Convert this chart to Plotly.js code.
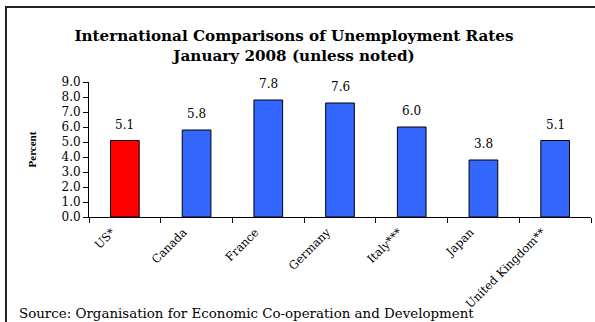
<!DOCTYPE html>
<html>
<head>
<meta charset="utf-8">
<script src="https://cdn.plot.ly/plotly-3.0.1.min.js"></script>
<style>
html,body{margin:0;padding:0;background:#fff;}
#chart{width:595px;height:322px;}
</style>
</head>
<body>
<div id="chart"></div>
<script>
const countries = ["US*", "Canada", "France", "Germany", "Italy***", "Japan", "United Kingdom**"];
const rates = [5.1, 5.8, 7.8, 7.6, 6.0, 3.8, 5.1];
const barColors = ["#FF0000", "#3366FF", "#3366FF", "#3366FF", "#3366FF", "#3366FF", "#3366FF"];
const yTicks = [0, 1, 2, 3, 4, 5, 6, 7, 8, 9];

const serif = "DejaVu Serif, serif";
const tserif = "Liberation Serif, serif";

const W = 595, H = 322;
const L = 89, R = 4, T = 82, B = 105;
const pw = W - L - R, ph = H - T - B;
const px = x => (x - L) / pw;
const py = y => (H - B - y) / ph;

const trace = {
  type: "bar",
  x: countries,
  y: rates,
  marker: {color: barColors, line: {color: "#000", width: 1}},
  cliponaxis: false,
  hoverinfo: "none"
};

const labelAnnots = countries.map((c, i) => ({
  x: c, y: rates[i], xref: "x", yref: "y",
  text: rates[i].toFixed(1),
  showarrow: false, yanchor: "bottom", xanchor: "center", yshift: 7,
  font: {family: serif, size: 12, color: "#000"}
}));

const layout = {
  width: W, height: H,
  margin: {l: L, r: R, t: T, b: B},
  paper_bgcolor: "#fff",
  plot_bgcolor: "#fff",
  showlegend: false,
  bargap: 0.6,
  font: {family: serif, color: "#000"},
  title: {
    text: "<b>International Comparisons of Unemployment Rates<br>January 2008 (unless noted)</b>",
    font: {family: serif, size: 15.2, color: "#000"},
    xref: "container", x: 294 / W, xanchor: "center",
    yref: "container", y: 1 - 41 / H, yanchor: "top"
  },
  xaxis: {
    type: "category",
    showline: true, linecolor: "#000", linewidth: 1,
    ticks: "outside", ticklen: 5, tickcolor: "#000",
    tickson: "boundaries",
    tickangle: -45,
    ticklabelshift: -13,
    ticklabelstandoff: 3,
    tickfont: {family: serif, size: 11.5, color: "#000"},
    showgrid: false, zeroline: false
  },
  yaxis: {
    range: [0, 9],
    tickvals: yTicks,
    ticktext: yTicks.map(v => v.toFixed(1)),
    showline: true, linecolor: "#000", linewidth: 1,
    ticks: "outside", ticklen: 5, tickcolor: "#000",
    tickfont: {family: serif, size: 12, color: "#000"},
    showgrid: false, zeroline: false,
    title: {text: "<b>Percent</b>", font: {family: tserif, size: 11, color: "#000"}, standoff: 22}
  },
  shapes: [{
    type: "rect", xref: "paper", yref: "paper",
    x0: px(6), x1: px(610), y0: py(340), y1: py(7),
    line: {color: "#222", width: 2}, fillcolor: "rgba(0,0,0,0)", layer: "above"
  }],
  annotations: labelAnnots.concat([{
    text: "Source: Organisation for Economic Co-operation and Development",
    xref: "paper", yref: "paper",
    x: px(17), y: py(313), xanchor: "left", yanchor: "middle",
    showarrow: false,
    font: {family: serif, size: 13.4, color: "#000"}
  }])
};

Plotly.newPlot("chart", [trace], layout, {staticPlot: true, displayModeBar: false});
</script>
</body>
</html>
